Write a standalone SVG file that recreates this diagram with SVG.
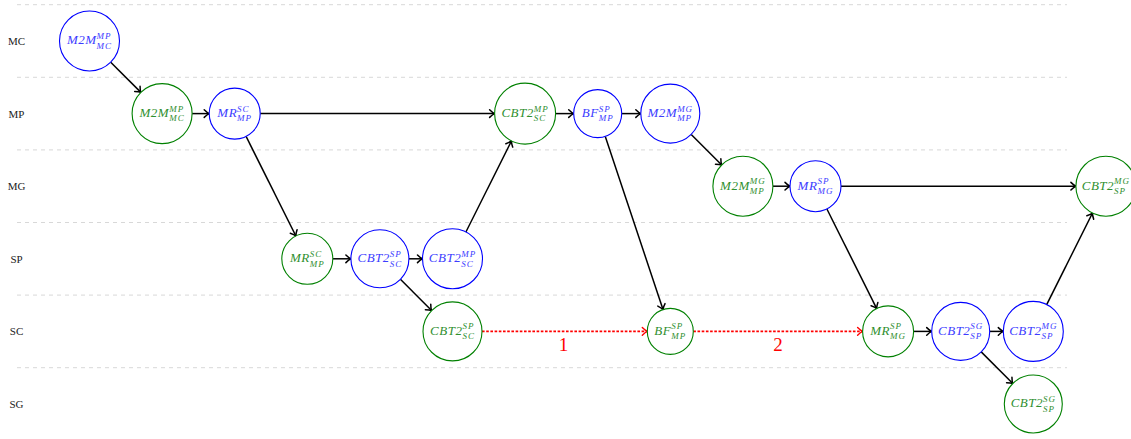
<svg xmlns="http://www.w3.org/2000/svg" width="1131" height="439" viewBox="0 0 1131 439">
<style>
.grid{stroke:#d4d4d4;stroke-width:0.9;stroke-dasharray:4 4;fill:none}
.row{font-family:"Liberation Serif",serif;font-size:11px;fill:#222;text-anchor:middle}
.nb circle{fill:#fff;stroke:#0000ff;stroke-width:1.1}
.ng circle{fill:#fff;stroke:#008000;stroke-width:1.1}
.nb text{fill:#3c3cff}
.ng text{fill:#2f8f2f}
text.t{font-family:"Liberation Serif",serif;font-style:italic;font-size:13px;letter-spacing:0.5px;text-anchor:middle}
.s{font-size:9px;letter-spacing:1px}
.e{stroke:#000;stroke-width:1.5;fill:none;marker-end:url(#ah)}
.r{stroke:#ff0000;stroke-width:1.6;stroke-dasharray:2.6 1.6;fill:none;marker-end:url(#ahr)}
.lab{font-family:"Liberation Serif",serif;font-size:19px;fill:#ff0000;text-anchor:middle}
</style>
<defs>
<marker id="ah" viewBox="-7 -5 8 10" refX="0" refY="0" markerWidth="8" markerHeight="10" markerUnits="userSpaceOnUse" orient="auto" overflow="visible">
<path d="M-5,-3.8 Q-2,-0.8 0,0 Q-2,0.8 -5,3.8" fill="none" stroke="#000" stroke-width="1.5" stroke-linecap="round"/>
</marker>
<marker id="ahr" viewBox="-7 -5 8 10" refX="0" refY="0" markerWidth="8" markerHeight="10" markerUnits="userSpaceOnUse" orient="auto" overflow="visible">
<path d="M-5,-3.8 Q-2,-0.8 0,0 Q-2,0.8 -5,3.8" fill="none" stroke="#ff0000" stroke-width="1.4" stroke-linecap="round"/>
</marker>
</defs>
<rect width="1131" height="439" fill="#fff"/>
<g id="grid">
<line class="grid" x1="17" y1="4.7" x2="1067" y2="4.7"/>
<line class="grid" x1="17" y1="77.3" x2="1067" y2="77.3"/>
<line class="grid" x1="17" y1="149.9" x2="1067" y2="149.9"/>
<line class="grid" x1="17" y1="222.5" x2="1067" y2="222.5"/>
<line class="grid" x1="17" y1="295.1" x2="1067" y2="295.1"/>
<line class="grid" x1="17" y1="367.7" x2="1067" y2="367.7"/>
</g>
<g id="rows">
<text class="row" x="16.5" y="45">MC</text>
<text class="row" x="16.5" y="117.6">MP</text>
<text class="row" x="16.5" y="190.2">MG</text>
<text class="row" x="16.5" y="262.8">SP</text>
<text class="row" x="16.5" y="335.4">SC</text>
<text class="row" x="16.5" y="408">SG</text>
</g>
<g id="connectors">
<line class="e" x1="110.7" y1="62.2" x2="140.9" y2="92.4"/>
<line class="e" x1="192.1" y1="113.6" x2="209.2" y2="113.6"/>
<line class="e" x1="260.2" y1="113.6" x2="494.6" y2="113.6"/>
<line class="e" x1="246.1" y1="136.4" x2="295.9" y2="236.0"/>
<line class="e" x1="332.8" y1="258.8" x2="350.9" y2="258.8"/>
<line class="e" x1="408.9" y1="258.8" x2="422.5" y2="258.8"/>
<line class="e" x1="400.4" y1="279.3" x2="431.6" y2="310.5"/>
<line class="e" x1="465.9" y1="232.0" x2="511.5" y2="140.9"/>
<line class="e" x1="555.6" y1="113.6" x2="573.7" y2="113.6"/>
<line class="e" x1="621.7" y1="113.6" x2="640.8" y2="113.6"/>
<line class="e" x1="605.3" y1="136.4" x2="663.0" y2="309.6"/>
<line class="e" x1="691.2" y1="134.5" x2="721.7" y2="165.0"/>
<line class="e" x1="772.9" y1="186.2" x2="790.0" y2="186.2"/>
<line class="e" x1="841.0" y1="186.2" x2="1075.9" y2="186.2"/>
<line class="e" x1="826.9" y1="209.0" x2="876.7" y2="308.6"/>
<line class="e" x1="913.6" y1="331.4" x2="931.7" y2="331.4"/>
<line class="e" x1="989.7" y1="331.4" x2="1003.3" y2="331.4"/>
<line class="e" x1="981.2" y1="351.9" x2="1012.8" y2="383.5"/>
<line class="e" x1="1046.7" y1="304.6" x2="1092.5" y2="213.0"/>
<line class="r" x1="482" y1="331.4" x2="647.3" y2="331.4"/>
<line class="r" x1="693.3" y1="331.4" x2="862.6" y2="331.4"/>
<text class="lab" x="563.5" y="350.5">1</text>
<text class="lab" x="778" y="350.5">2</text>
</g>
<g id="A" class="nb"><circle cx="89.5" cy="41" r="30"/><text class="t" x="89.5" y="44.3">M2M<tspan class="s" dy="-5.3">MP</tspan><tspan class="s" dx="-15" dy="9.7">MC</tspan></text></g>
<g id="B" class="ng"><circle cx="162.1" cy="113.6" r="30"/><text class="t" x="162.1" y="116.9">M2M<tspan class="s" dy="-5.3">MP</tspan><tspan class="s" dx="-15" dy="9.7">MC</tspan></text></g>
<g id="C" class="nb"><circle cx="234.7" cy="113.6" r="25.5"/><text class="t" x="234.7" y="116.9">MR<tspan class="s" dy="-5.3">SC</tspan><tspan class="s" dx="-12.5" dy="9.7">MP</tspan></text></g>
<g id="D" class="ng"><circle cx="525.1" cy="113.6" r="30.5"/><text class="t" x="525.1" y="116.9">CBT2<tspan class="s" dy="-5.3">MP</tspan><tspan class="s" dx="-15" dy="9.7">SC</tspan></text></g>
<g id="E" class="nb"><circle cx="597.7" cy="113.6" r="24"/><text class="t" x="597.7" y="116.9">BF<tspan class="s" dy="-5.3">SP</tspan><tspan class="s" dx="-12" dy="9.7">MP</tspan></text></g>
<g id="F" class="nb"><circle cx="670.3" cy="113.6" r="29.5"/><text class="t" x="670.3" y="116.9">M2M<tspan class="s" dy="-5.3">MG</tspan><tspan class="s" dx="-16" dy="9.7">MP</tspan></text></g>
<g id="G" class="ng"><circle cx="742.9" cy="186.2" r="30"/><text class="t" x="742.9" y="189.5">M2M<tspan class="s" dy="-5.3">MG</tspan><tspan class="s" dx="-16" dy="9.7">MP</tspan></text></g>
<g id="H" class="nb"><circle cx="815.5" cy="186.2" r="25.5"/><text class="t" x="815.5" y="189.5">MR<tspan class="s" dy="-5.3">SP</tspan><tspan class="s" dx="-12" dy="9.7">MG</tspan></text></g>
<g id="I" class="ng"><circle cx="1105.9" cy="186.2" r="30"/><text class="t" x="1105.9" y="189.5">CBT2<tspan class="s" dy="-5.3">MG</tspan><tspan class="s" dx="-16" dy="9.7">SP</tspan></text></g>
<g id="J" class="ng"><circle cx="307.3" cy="258.8" r="25.5"/><text class="t" x="307.3" y="262.1">MR<tspan class="s" dy="-5.3">SC</tspan><tspan class="s" dx="-12.5" dy="9.7">MP</tspan></text></g>
<g id="K" class="nb"><circle cx="379.9" cy="258.8" r="29"/><text class="t" x="379.9" y="262.1">CBT2<tspan class="s" dy="-5.3">SP</tspan><tspan class="s" dx="-12" dy="9.7">SC</tspan></text></g>
<g id="L" class="nb"><circle cx="452.5" cy="258.8" r="30"/><text class="t" x="452.5" y="262.1">CBT2<tspan class="s" dy="-5.3">MP</tspan><tspan class="s" dx="-15" dy="9.7">SC</tspan></text></g>
<g id="M" class="ng"><circle cx="452.5" cy="331.4" r="29.5"/><text class="t" x="452.5" y="334.7">CBT2<tspan class="s" dy="-5.3">SP</tspan><tspan class="s" dx="-12" dy="9.7">SC</tspan></text></g>
<g id="N" class="ng"><circle cx="670.3" cy="331.4" r="23"/><text class="t" x="670.3" y="334.7">BF<tspan class="s" dy="-5.3">SP</tspan><tspan class="s" dx="-12" dy="9.7">MP</tspan></text></g>
<g id="O" class="ng"><circle cx="888.1" cy="331.4" r="25.5"/><text class="t" x="888.1" y="334.7">MR<tspan class="s" dy="-5.3">SP</tspan><tspan class="s" dx="-12" dy="9.7">MG</tspan></text></g>
<g id="P" class="nb"><circle cx="960.7" cy="331.4" r="29"/><text class="t" x="960.7" y="334.7">CBT2<tspan class="s" dy="-5.3">SG</tspan><tspan class="s" dx="-13" dy="9.7">SP</tspan></text></g>
<g id="Q" class="nb"><circle cx="1033.3" cy="331.4" r="30"/><text class="t" x="1033.3" y="334.7">CBT2<tspan class="s" dy="-5.3">MG</tspan><tspan class="s" dx="-16" dy="9.7">SP</tspan></text></g>
<g id="R" class="ng"><circle cx="1033.3" cy="404" r="29"/><text class="t" x="1033.3" y="407.3">CBT2<tspan class="s" dy="-5.3">SG</tspan><tspan class="s" dx="-13" dy="9.7">SP</tspan></text></g>
</svg>
